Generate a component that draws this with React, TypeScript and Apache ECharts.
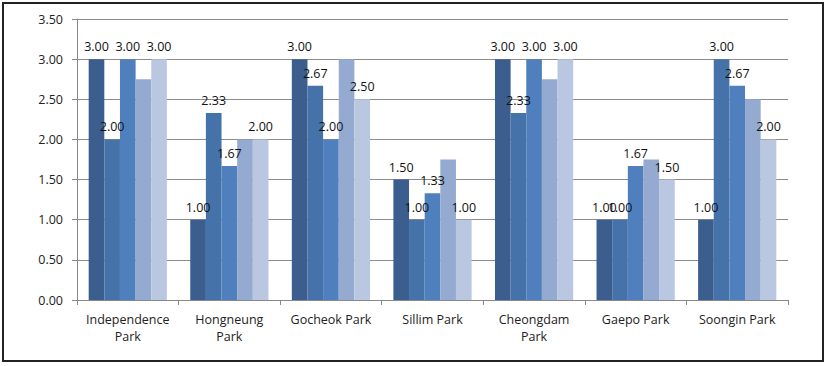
import React, { useEffect, useRef } from "react";
import * as echarts from "echarts";

const categories = [
  "Independence\nPark",
  "Hongneung\nPark",
  "Gocheok Park",
  "Sillim Park",
  "Cheongdam\nPark",
  "Gaepo Park",
  "Soongin Park",
];
const series1 = [3.0, 1.0, 3.0, 1.5, 3.0, 1.0, 1.0];
const series2 = [2.0, 2.33, 2.67, 1.0, 2.33, 1.0, 3.0];
const series3 = [3.0, 1.67, 2.0, 1.33, 3.0, 1.67, 2.67];
const series4 = [2.75, 2.0, 3.0, 1.75, 2.75, 1.75, 2.5];
const series5 = [3.0, 2.0, 2.5, 1.0, 3.0, 1.5, 2.0];
const seriesData = [series1, series2, series3, series4, series5];
const showLabel = [true, true, true, false, true];
const colors = ["#3B5E8E", "#4572A8", "#4F80BD", "#94AAD1", "#B9C7E1"];

export default function App() {
  const ref = useRef<HTMLDivElement>(null);
  useEffect(() => {
    const chart = echarts.init(ref.current!, null, { renderer: "svg" });
    const font = "'Open Sans', 'Noto Sans', sans-serif";
    chart.setOption({
      animation: false,
      textStyle: { fontFamily: font },
      graphic: [
        {
          type: "rect",
          shape: { x: 3, y: 3, width: 820, height: 358 },
          style: { fill: "none", stroke: "#222", lineWidth: 2 },
          silent: true,
        },
      ],
      grid: { left: 77, right: 39, top: 19, bottom: 66, containLabel: false },
      xAxis: {
        type: "category",
        data: categories,
        axisLine: { show: true, lineStyle: { color: "#888", width: 1 } },
        axisTick: { show: true, alignWithLabel: false, length: 5, lineStyle: { color: "#888" } },
        axisLabel: {
          color: "#222",
          fontSize: 12.5,
          fontFamily: font,
          margin: 11,
          lineHeight: 17,
          interval: 0,
        },
      },
      yAxis: {
        type: "value",
        min: 0,
        max: 3.5,
        interval: 0.5,
        axisLine: { show: true, lineStyle: { color: "#888" } },
        axisTick: { show: true, length: 5, inside: false, lineStyle: { color: "#888" } },
        splitLine: { show: true, lineStyle: { color: "#8c8c8c", width: 1 } },
        axisLabel: {
          color: "#222",
          fontSize: 12.5,
          fontFamily: font,
          margin: 14,
          formatter: (v: number) => v.toFixed(2),
        },
      },
      series: seriesData.map((d, i) => ({
        type: "bar",
        name: "S" + (i + 1),
        data: d,
        barGap: "0%",
        barCategoryGap: "23%",
        itemStyle: { color: colors[i] },
        label: {
          show: showLabel[i],
          position: "top",
          distance: 6,
          color: "#111",
          fontSize: 12.5,
          fontFamily: font,
          formatter: (p: any) => Number(p.value).toFixed(2),
        },
      })),
    });
    return () => chart.dispose();
  }, []);
  return (
    <div
      ref={ref}
      style={{ position: "absolute", left: 0, top: 0, width: 827, height: 366, background: "#fff" }}
    />
  );
}
